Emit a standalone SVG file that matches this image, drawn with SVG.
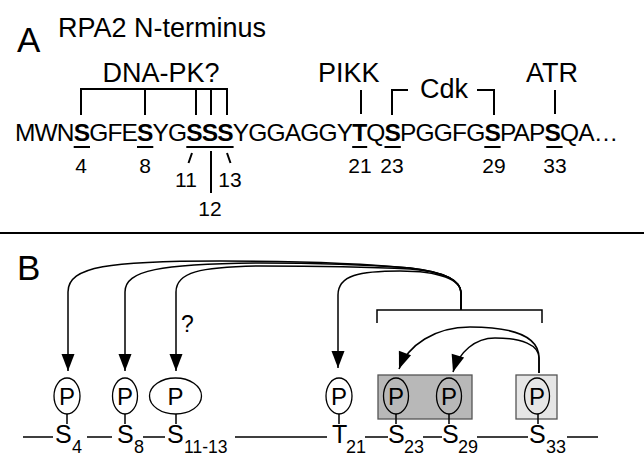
<svg xmlns="http://www.w3.org/2000/svg" width="644" height="474" viewBox="0 0 644 474">
<defs>
<style>
text{font-family:"Liberation Sans",Arial,Helvetica,sans-serif;fill:#000}
.lbl{font-size:27px}
.seq{font-size:24.5px;letter-spacing:-0.84px}
.num{font-size:21px;text-anchor:middle}
.res{font-size:25px}
.sub{font-size:18px}
.pl{font-size:24px;text-anchor:middle}
.ln{stroke:#000;stroke-width:2;fill:none}
.thin{stroke:#000;stroke-width:1.5;fill:none}
.arr{stroke:#000;stroke-width:1.5;fill:none;marker-end:url(#ah)}
.el{stroke:#000;stroke-width:1.3;fill:#fff}
</style>
<marker id="ah" viewBox="-18 -7 19 14" refX="0" refY="0" markerWidth="19" markerHeight="14" markerUnits="userSpaceOnUse" orient="auto">
<path d="M-17,-6.5 L0,0 L-17,6.5 Z" fill="#000"/>
</marker>
</defs>
<rect width="644" height="474" fill="#fff"/>

<g id="panelA">
<text x="17" y="52" style="font-size:35px">A</text>
<text x="58" y="37" class="lbl">RPA2 N-terminus</text>
<text x="161" y="82" class="lbl" text-anchor="middle">DNA-PK?</text>
<text x="318" y="82" class="lbl">PIKK</text>
<text x="420" y="98" class="lbl">Cdk</text>
<text x="526" y="82" class="lbl">ATR</text>
<text x="15" y="141" class="seq">MWN<tspan font-weight="bold">S</tspan>GFE<tspan font-weight="bold">S</tspan>YG<tspan font-weight="bold">SSS</tspan>YGGAGGY<tspan font-weight="bold">T</tspan>Q<tspan font-weight="bold">S</tspan>PGGFG<tspan font-weight="bold">S</tspan>PAP<tspan font-weight="bold">S</tspan>QA…</text>
<g id="underlines" class="ln">
<path d="M73.7,147H90M137,147H153.3M186.3,147H233.6M352.2,147H367.2M384.5,147H400.8M484.3,147H500.6M546.3,147H562.6"/>
</g>
<g id="brackets" class="ln">
<path d="M81,115V89H227V115M145,89V115M196,89V115M211,89V115"/>
<path d="M361,90V114"/>
<path d="M392,115V90H408M477,90H494V115"/>
<path d="M555,90V114"/>
<path d="M192,153L188.5,163M227,153L230.5,163M211,151V193"/>
</g>
<text x="81" y="173" class="num">4</text>
<text x="145" y="173" class="num">8</text>
<text x="186" y="187" class="num">11</text>
<text x="230" y="187" class="num">13</text>
<text x="210" y="216" class="num">12</text>
<text x="360" y="173" class="num">21</text>
<text x="392" y="173" class="num">23</text>
<text x="494" y="173" class="num">29</text>
<text x="555" y="173" class="num">33</text>
</g>

<line x1="0" y1="233" x2="644" y2="233" stroke="#000" stroke-width="2"/>

<g id="panelB">
<text x="17" y="280" style="font-size:35px">B</text>
<text x="181" y="332" style="font-size:23px">?</text>
</g>

<g id="connectors">
<path class="thin" d="M377,323V310H542V323M461,310V293"/>
<path class="arr" d="M461,310V293C461,280 445,272 410,268C360,263 300,261 220,261C110,261 68,266 68,292V371"/>
<path class="arr" d="M461,310V293C461,280 445,272 410,268C370,265 330,263 260,263C160,264 125,270 125,292V371"/>
<path class="arr" d="M461,310V293C461,280 445,272 410,269C370,267 320,266 260,266C200,267 176,272 176,292V371"/>
<path class="arr" d="M461,310V293C461,280 440,271 400,271C360,271 338,275 338,295V368"/>
<path class="arr" d="M539,373V358C539,335 510,327 470,327C435,327 408,345 399,369"/>
<path class="arr" d="M539,373V358C539,345 522,338 495,338C475,338 459,352 453,372"/>
<path class="thin" d="M23,437H53M87,437H112M143,437H165M235,437H327M365,437H388M423,437H442M477,437H528M567,437H598"/>
</g>

<g id="boxS23S29"><rect x="378" y="375" width="94" height="44" fill="#b8b8b8" stroke="#555" stroke-width="1.3"/></g>
<g id="boxS33"><rect x="516" y="375" width="41" height="44" fill="#e6e6e6" stroke="#555" stroke-width="1.3"/></g>

<g id="S4">
<ellipse class="el" cx="67" cy="396" rx="13" ry="18"/><text x="67" y="404.5" class="pl">P</text>
<path class="thin" d="M67,414V424"/>
<text x="55" y="443" class="res">S</text><text x="72" y="453" class="sub">4</text>
</g>
<g id="S8">
<ellipse class="el" cx="125" cy="396" rx="12.5" ry="18"/><text x="125" y="404.5" class="pl">P</text>
<path class="thin" d="M125,414V424"/>
<text x="117" y="443" class="res">S</text><text x="134" y="453" class="sub">8</text>
</g>
<g id="S11-13">
<ellipse class="el" cx="175.5" cy="396" rx="26" ry="18"/><text x="175.5" y="404.5" class="pl">P</text>
<path class="thin" d="M176,414V424"/>
<text x="167" y="443" class="res">S</text><text x="184" y="453" class="sub" style="font-size:17.5px">11-13</text>
</g>
<g id="T21">
<ellipse class="el" cx="339" cy="396" rx="13" ry="18"/><text x="339" y="404.5" class="pl">P</text>
<path class="thin" d="M339,414V424"/>
<text x="332" y="443" class="res">T</text><text x="346" y="453" class="sub">21</text>
</g>
<g id="S23">
<ellipse class="el" cx="396" cy="396" rx="12.5" ry="18" style="fill:#b8b8b8"/><text x="396" y="404.5" class="pl">P</text>
<path class="thin" d="M396,414V424"/>
<text x="388" y="443" class="res">S</text><text x="404" y="453" class="sub">23</text>
</g>
<g id="S29">
<ellipse class="el" cx="449" cy="396" rx="12.5" ry="18" style="fill:#b8b8b8"/><text x="449" y="404.5" class="pl">P</text>
<path class="thin" d="M449,414V424"/>
<text x="442" y="443" class="res">S</text><text x="458" y="453" class="sub">29</text>
</g>
<g id="S33">
<ellipse class="el" cx="537" cy="396" rx="12.5" ry="18" style="fill:#e6e6e6"/><text x="537" y="404.5" class="pl">P</text>
<path class="thin" d="M538,414V424"/>
<text x="529" y="443" class="res">S</text><text x="546" y="453" class="sub">33</text>
</g>
</svg>
